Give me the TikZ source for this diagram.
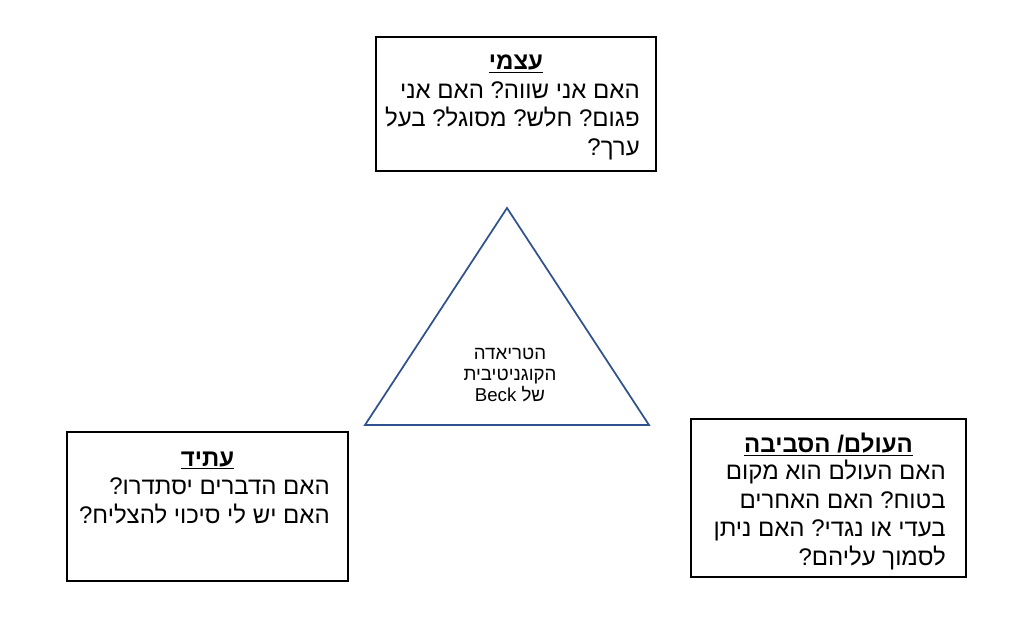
\documentclass[tikz,border=0pt]{standalone}
\usepackage{fontspec}
\setmainfont{Liberation Sans}
\newfontfamily\hebfont[Script=Hebrew]{Liberation Sans}
\TeXXeTstate=1
\frenchspacing
\definecolor{triblue}{HTML}{2F528F}
\tikzset{
 box/.style={draw=black, line width=1pt},
 title/.style={font=\hebfont\fontsize{18}{21.5}\selectfont\bfseries\frenchspacing, inner sep=0pt, anchor=base},
 body/.style={font=\hebfont\fontsize{18}{21.5}\selectfont\frenchspacing, inner sep=0pt, align=right, anchor=north east},
 tri/.style={draw=triblue, line width=1.3pt, line join=miter},
 tritext/.style={font=\hebfont\fontsize{14}{16}\selectfont\frenchspacing, align=center, inner sep=0pt, anchor=north}
}
\begin{document}
\begin{tikzpicture}[x=0.75pt,y=-0.75pt]
\useasboundingbox (0,0) rectangle (1033,617);
% boxes
\draw[box] (376,37) rectangle (656,171);
\draw[box] (67,432) rectangle (348,581);
\draw[box] (691,419) rectangle (966,577);
% triangle
\coordinate (apex) at (507,208);
\coordinate (bl) at (365,425);
\coordinate (br) at (649,425);
\draw[tri] (apex) -- (bl) -- (br) -- cycle;
% top box
\node[title] (selftitle) at (516,69.5) {\underline{\beginR עצמי\endR}};
\node[body] (selfbody) at (640,78) {\strut\beginR האם אני שווה? האם אני\endR\\ \beginR פגום? חלש? מסוגל? בעל\endR\\ \beginR ערך?\endR};
% left box
\node[title] (futtitle) at (207.5,466) {\underline{\beginR עתיד\endR}};
\node[body] (futbody) at (330,474) {\strut\beginR האם הדברים יסתדרו?\endR\\ \beginR האם יש לי סיכוי להצליח?\endR};
% right box
\node[title] (worldtitle) at (828.5,452.5) {\underline{\beginR העולם/ הסביבה\endR}};
\node[body] (worldbody) at (946,459) {\strut\beginR האם העולם הוא מקום\endR\\ \beginR בטוח? האם האחרים\endR\\ \beginR בעדי או נגדי? האם ניתן\endR\\ \beginR לסמוך עליהם?\endR};
% triangle text
\node[tritext] (tritxt) at (510,344) {\strut\beginR הטריאדה\endR\\ \beginR הקוגניטיבית\endR\\ \beginR של \beginL Beck\endL\endR};
\end{tikzpicture}
\end{document}
